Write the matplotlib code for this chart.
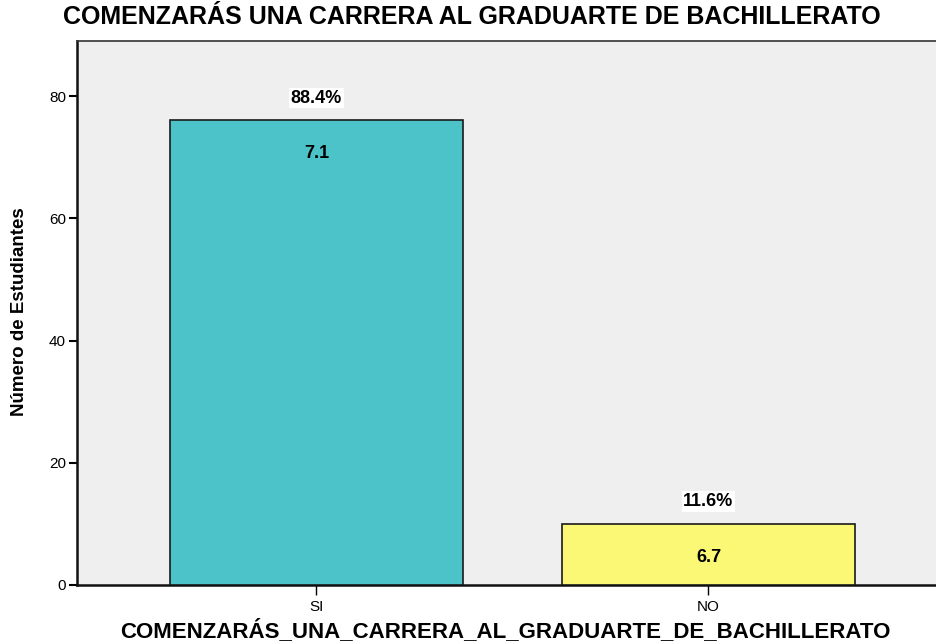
import matplotlib
matplotlib.use("Agg")
import matplotlib.pyplot as plt
from matplotlib import font_manager as fm

categories = ["SI", "NO"]
counts = [76, 10]
pct_labels = ["88.4%", "11.6%"]
inner_labels = ["7.1", "6.7"]
colors = ["#4BC3C8", "#FAF874"]
yticks = [0, 20, 40, 60, 80]

names = {f.name for f in fm.fontManager.ttflist}
narrow = "Liberation Sans Narrow" if "Liberation Sans Narrow" in names else "Liberation Sans"
regular = "Liberation Sans"

fig = plt.figure(figsize=(9.37, 6.44), dpi=100)
ax = fig.add_axes([77/937, 1-585/644, 1-77/937, (585-41)/644])
ax.set_facecolor("#EFEFEF")

x = list(range(len(categories)))
bars = ax.bar(x, counts, width=0.747, color=colors, edgecolor="#1a1a1a", linewidth=1.2, zorder=3)

for xi, c, p, il in zip(x, counts, pct_labels, inner_labels):
    ax.annotate(p, (xi, c), xytext=(0, 10), textcoords="offset points", ha="center", va="bottom",
                fontsize=13, fontweight="bold", family=regular,
                bbox=dict(boxstyle="square,pad=0.1", fc="white", ec="none"), zorder=5)
    ax.annotate(il, (xi, c), xytext=(0, -24), textcoords="offset points", ha="center", va="center",
                fontsize=13, fontweight="bold", family=regular, zorder=5)

ax.set_xlim(-0.611, 1.583)
ax.set_ylim(0, 89)
ax.set_yticks(yticks)
ax.set_yticklabels([str(v) for v in yticks], family=regular, fontsize=11)
ax.set_xticks(x)
ax.set_xticklabels(categories, family=narrow, fontsize=11)
ax.tick_params(axis="y", direction="out", length=6, width=1.5, pad=2)
ax.tick_params(axis="x", direction="out", length=7, width=1.0, pad=4)

for s in ["left", "bottom"]:
    ax.spines[s].set_linewidth(1.8)
    ax.spines[s].set_color("#111111")
ax.spines["top"].set_linewidth(1.2)
ax.spines["top"].set_color("#333333")
ax.spines["right"].set_visible(False)

fig.text(472/937, 1-17/644, "COMENZARÁS UNA CARRERA AL GRADUARTE DE BACHILLERATO",
         ha="center", va="center", fontsize=18, fontweight="bold", family=narrow)
fig.text(505/937, 1-631/644, "COMENZARÁS_UNA_CARRERA_AL_GRADUARTE_DE_BACHILLERATO",
         ha="center", va="center", fontsize=16, fontweight="bold", family=narrow)
fig.text(20/937, 1-312/644, "Número de Estudiantes", rotation=90,
         ha="center", va="center", fontsize=13.5, fontweight="bold", family=narrow)

fig.savefig("out.png", dpi=100)
